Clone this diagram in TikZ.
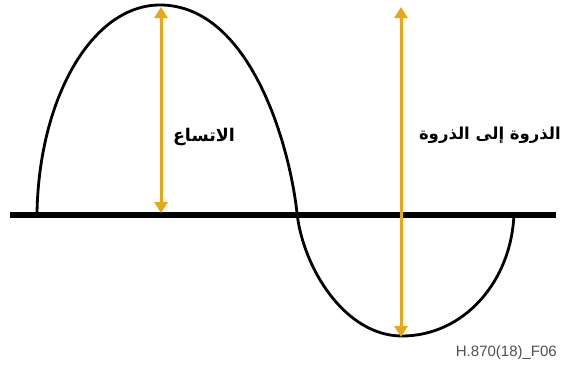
\documentclass[tikz,border=0pt]{standalone}
\usepackage{fontspec}
\usetikzlibrary{arrows.meta}
\setsansfont{Liberation Sans}
\newfontfamily\arabicfont[Script=Arabic]{DejaVu Sans}
\TeXXeTstate=1
\definecolor{gold}{RGB}{230,168,23}
\definecolor{codegray}{RGB}{80,80,80}
\begin{document}
\begin{tikzpicture}[x=1pt,y=-1pt,
  wave/.style={line width=2.8pt, black},
  axisline/.style={line width=6pt, black},
  dimarrow/.style={gold, line width=3pt, {Triangle[width=13pt,length=11pt]}-{Triangle[width=13pt,length=11pt]}},
  lbl/.style={font=\arabicfont\bfseries\fontsize{17.5}{21}\selectfont, inner sep=0pt},
  lblsmall/.style={font=\arabicfont\bfseries\fontsize{16.5}{20}\selectfont, inner sep=0pt},
  codelbl/.style={font=\sffamily\fontsize{15}{18}\selectfont, text=codegray, inner sep=0pt, anchor=east}]
\useasboundingbox (0,0) rectangle (566,372);
\coordinate (axL) at (10,215);
\coordinate (axR) at (556,215);
\draw[axisline] (axL) -- (axR);
\draw[wave] (37,213) .. controls (39,98) and (92,5) .. (160,5)
  .. controls (248,5) and (289,140) .. (297,213)
  .. controls (303,268) and (345,336) .. (402,336)
  .. controls (464,336) and (512,281) .. (514,213);
\coordinate (a1t) at (161,7);
\coordinate (a1b) at (161,213);
\coordinate (a2t) at (401,7);
\coordinate (a2b) at (401,337);
\draw[dimarrow] (a1b) -- (a1t);
\draw[dimarrow] (a2b) -- (a2t);
\node[lbl] (amp) at (204,137) {\beginR الاتساع\endR};
\node[lblsmall, anchor=east] (p2p) at (561,135) {\beginR الذروة إلى الذروة\endR};
\node[codelbl] (code) at (557,353) {H.870(18)\_F06};
\end{tikzpicture}
\end{document}
